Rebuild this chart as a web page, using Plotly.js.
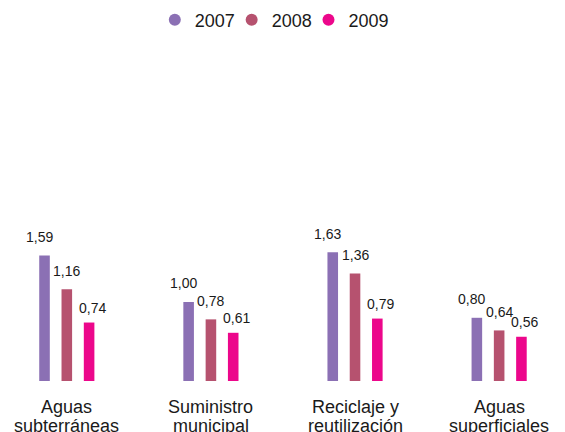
<!DOCTYPE html>
<html>
<head>
<meta charset="utf-8">
<script src="https://cdn.plot.ly/plotly-3.0.1.min.js"></script>
<style>html,body{margin:0;padding:0;background:#fff;}#chart{width:565px;height:432px;}</style>
</head>
<body>
<div id="chart"></div>
<script>
const categories = ["Aguas subterráneas", "Suministro municipal", "Reciclaje y reutilización", "Aguas superficiales"];
const catLine1 = ["Aguas", "Suministro", "Reciclaje y", "Aguas"];
const catLine2 = ["subterráneas", "municipal", "reutilización", "superficiales"];
const years = ["2007", "2008", "2009"];
const v2007 = [1.59, 1.00, 1.63, 0.80];
const v2008 = [1.16, 0.78, 1.36, 0.64];
const v2009 = [0.74, 0.61, 0.79, 0.56];
const colors = ["#8b70b4", "#b6526f", "#ec078b"];

const series = [v2007, v2008, v2009];
const fmt = v => v.toFixed(2).replace('.', ',');
const FONT = "Liberation Sans, Arial, Helvetica, sans-serif";

const W = 565, H = 432;
const margin = {l: 0, r: 0, t: 40, b: 51};
const xRange = [-0.4636, 3.457];
const bargap = 0.536, bargroupgap = 0.525;
// pixel width of one bar slot within a group, derived from the layout
const slotPx = (1 - bargap) / series.length * (W - margin.l - margin.r) / (xRange[1] - xRange[0]);
const labelNudgeX = [-5, 0, 3];
const labelGap = [8.5, 8.5, 5];
// legend entry positions (paper fraction, left edge of each legend box)
const legendX = [0.274, 0.41, 0.546];
const legendNames = ['legend', 'legend2', 'legend3'];

const traces = [];
series.forEach((vals, i) => {
  traces.push({
    type: 'bar', x: categories, y: vals, name: years[i],
    marker: {color: colors[i]},
    showlegend: false, hoverinfo: 'none'
  });
});
series.forEach((vals, i) => {
  traces.push({
    type: 'scatter', mode: 'markers', x: [null], y: [null], name: years[i],
    marker: {color: colors[i], size: 12, symbol: 'circle'},
    showlegend: true, hoverinfo: 'none', legend: legendNames[i]
  });
});

const annotations = [];
series.forEach((vals, i) => {
  vals.forEach((v, j) => {
    annotations.push({x: categories[j], y: v, xref: 'x', yref: 'y',
      xshift: (i - (series.length - 1) / 2) * slotPx + labelNudgeX[i],
      yshift: labelGap[i], yanchor: 'bottom', xanchor: 'center',
      text: fmt(v), showarrow: false,
      font: {size: 14, color: '#1a1a1a', family: FONT}});
  });
});
categories.forEach((c, i) => {
  annotations.push({x: c, xref: 'x', y: 0, yref: 'paper', yanchor: 'top', yshift: -14,
    text: catLine1[i], showarrow: false, font: {size: 18, color: '#1a1a1a', family: FONT}});
  annotations.push({x: c, xref: 'x', y: 0, yref: 'paper', yanchor: 'top', yshift: -33,
    text: catLine2[i], showarrow: false, font: {size: 18, color: '#1a1a1a', family: FONT}});
});

const layout = {
  width: W, height: H,
  margin: margin,
  paper_bgcolor: '#fff', plot_bgcolor: '#fff',
  font: {family: FONT, color: '#1a1a1a'},
  barmode: 'group', bargap: bargap, bargroupgap: bargroupgap,
  xaxis: {type: 'category', range: xRange, showticklabels: false,
    showgrid: false, zeroline: false, showline: false, ticks: ''},
  yaxis: {range: [0, 4.316], visible: false, showgrid: false, zeroline: false},
  showlegend: true,
  annotations: annotations
};
legendNames.forEach((ln, i) => {
  layout[ln] = {orientation: 'h', x: legendX[i], xanchor: 'left', y: 1.0587, yanchor: 'middle',
    font: {size: 18, color: '#1a1a1a', family: FONT}, itemwidth: 30,
    bgcolor: 'rgba(0,0,0,0)'};
});

Plotly.newPlot('chart', traces, layout, {displayModeBar: false, staticPlot: true});
</script>
</body>
</html>
